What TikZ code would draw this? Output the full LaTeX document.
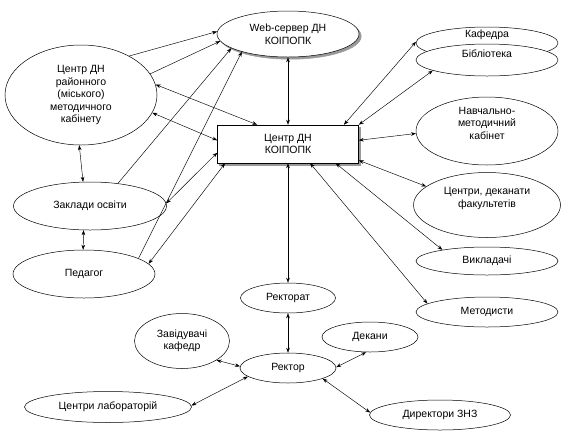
\documentclass[tikz,border=0pt]{standalone}
\usepackage{fontspec}
\setmainfont{Liberation Sans}
\usetikzlibrary{arrows.meta,shapes.geometric,shadows}
\tikzset{
  uzel/.style={ellipse, draw=black, line width=0.5pt, fill=white,
               inner sep=0pt, align=center,
               font=\fontsize{10.5}{12.5}\selectfont},
  ubox/.style={uzel, rectangle},
  utin/.style={general shadow={shadow xshift=2.2pt, shadow yshift=-2.2pt,
               draw=black!40, fill=black!40}},
  zv/.style={{Stealth[length=5pt,width=3.6pt]}-{Stealth[length=5pt,width=3.6pt]},
             line width=0.45pt},
  zvone/.style={-{Stealth[length=5pt,width=3.6pt]}, line width=0.45pt},
}

\begin{document}
\begin{tikzpicture}[x=1pt, y=-1pt]
  \useasboundingbox (0,0) rectangle (573,440);
  % --- centre and server ---
  \node[uzel, utin, minimum width=142, minimum height=46] (web) at (288, 34)
    {Web-сервер ДН\\КОІПОПК};
  \node[ubox, utin, minimum width=141, minimum height=38] (koi) at (288,144)
    {Центр ДН\\КОІПОПК};

  % --- left column ---
  \node[uzel, minimum width=152, minimum height=100] (rmk) at ( 81, 95)
    {Центр ДН\\районного\\(міського)\\методичного\\кабінету};
  \node[uzel, minimum width=153, minimum height=48] (zo)  at ( 90,206) {Заклади освіти};
  \node[uzel, minimum width=142, minimum height=48] (ped) at ( 84,274) {Педагог};

  % --- right column ---
  \node[uzel, minimum width=142, minimum height=32] (kaf) at (487, 43)
    {\raisebox{6pt}[0pt][0pt]{Кафедра}};
  \node[uzel, minimum width=142, minimum height=32] (bib) at (487, 60)
    {\raisebox{3pt}[0pt][0pt]{Бібліотека}};
  \node[uzel, minimum width=142, minimum height=68] (nmk) at (487,131)
    {\raisebox{4pt}[0pt][0pt]{\begin{tabular}{@{}c@{}}Навчально-\\методичний\\кабінет\end{tabular}}};
  \node[uzel, minimum width=147, minimum height=65] (dek) at (487,205)
    {\raisebox{4pt}[0pt][0pt]{\begin{tabular}{@{}c@{}}Центри, деканати\\факультетів\end{tabular}}};
  \node[uzel, minimum width=142, minimum height=28] (vykl)  at (487,261) {Викладачі};
  \node[uzel, minimum width=142, minimum height=30] (metod) at (487,312) {Методисти};

  % --- rector group ---
  \node[uzel, minimum width=95, minimum height=30] (rtat) at (288,298) {Ректорат};
  \node[uzel, minimum width=96, minimum height=30] (rek)  at (288,368) {Ректор};
  \node[uzel, minimum width=95, minimum height=55] (zav)  at (182,341) {Завідувачі\\кафедр};
  \node[uzel, minimum width=96, minimum height=30] (dkn)  at (370,337) {Декани};
  \node[uzel, minimum width=167, minimum height=31] (lab) at (108,407) {Центри лабораторій};
  \node[uzel, minimum width=141, minimum height=30] (dir) at (440,415) {Директори ЗНЗ};

  % --- links to the server ---
  \draw[zvone] (rmk.39) -- (web.178);
  \draw[zvone] (rmk.17) -- (web.186);
  \draw[zvone] (zo.39)  -- (web.194);
  \draw[zvone] (ped.16) -- (web.201);

  % --- links to the centre ---
  \draw[zv] (web.south) -- (koi.north);
  \draw[zv] (rmk.8)   -- (koi.148);
  \draw[zv] (rmk.-14) -- (koi.177);
  \draw[zv] (zo.2)    -- (koi.187);
  \draw[zv] (ped.9)   -- (koi.197);
  \draw[zv] (koi.19)  -- (kaf.179);
  \draw[zv] (koi.north east) -- (bib.191);
  \draw[zv] (koi.3)   -- (nmk.182);
  \draw[zv] (koi.-13) -- (dek.163);
  \draw[zv] (koi.-22) -- (vykl.166);
  \draw[zv] (koi.-41) -- (metod.172);
  \draw[zv] (koi.south) -- (rtat.north);

  % --- left chain ---
  \draw[zv] (rmk.268) -- (zo.106);
  \draw[zv] (zo.255)  -- (ped.92);

  % --- rector ---
  \draw[zv] (rtat.south) -- (rek.north);
  \draw[zv] (zav.-29) -- (rek.178);
  \draw[zv] (lab.1)   -- (rek.192);
  \draw[zv] (dkn.256) -- (rek.1);
  \draw[zv] (rek.-17) -- (dir.178);
\end{tikzpicture}
\end{document}
